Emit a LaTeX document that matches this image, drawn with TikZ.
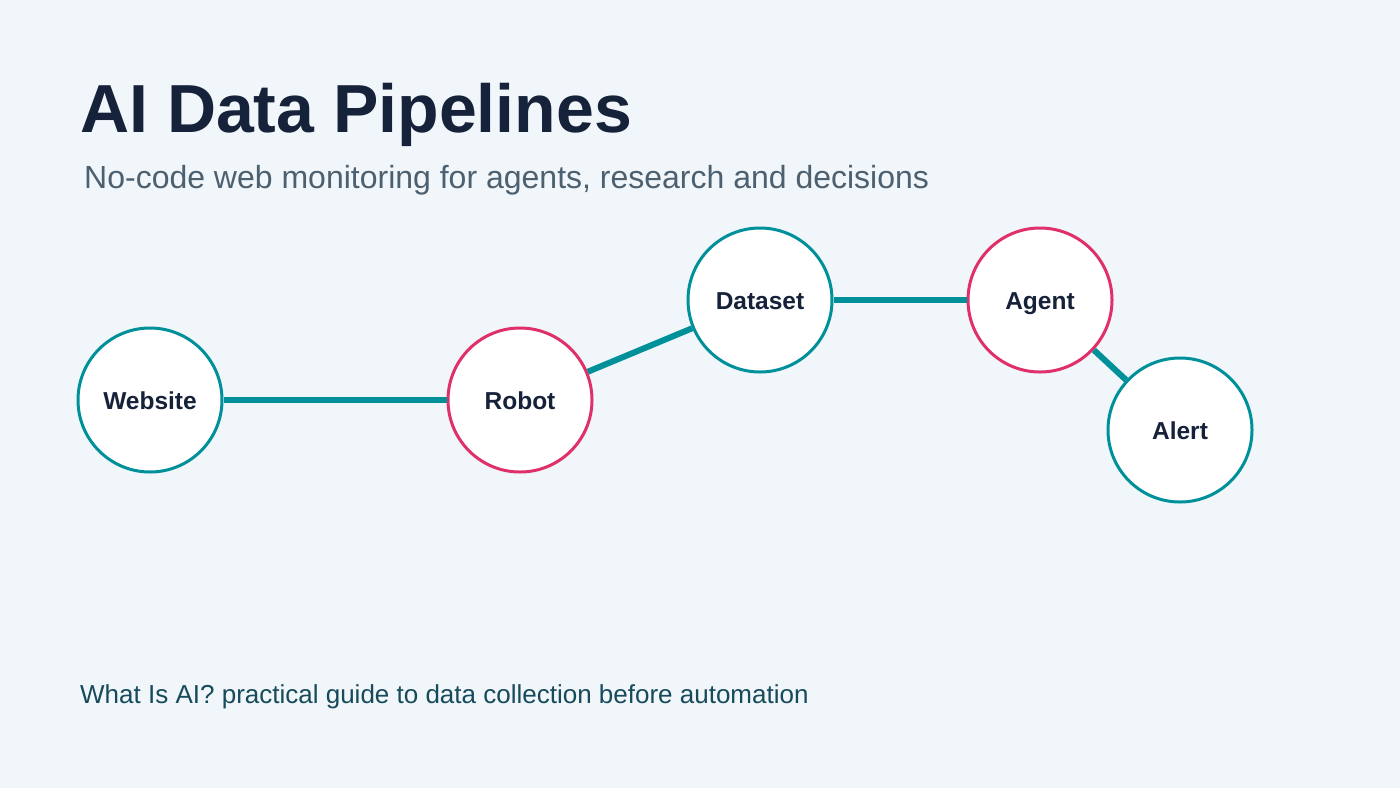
\documentclass[tikz,border=0pt]{standalone}
\usepackage{fontspec}
\setmainfont{Liberation Sans}
\definecolor{bgpale}{HTML}{F0F6F9}
\definecolor{tealc}{HTML}{00909A}
\definecolor{pinkc}{HTML}{E0306A}
\definecolor{inkc}{HTML}{16213A}
\definecolor{greyc}{HTML}{4D6070}
\definecolor{footc}{HTML}{174A5A}
\begin{document}
\begin{tikzpicture}
  [x=1pt,y=-1pt,
   stage/.style={circle,draw=tealc,fill=white,line width=3pt,minimum size=144pt,inner sep=0pt,
     text height=18pt,text depth=0pt,
     font=\fontsize{24.5}{26}\selectfont\bfseries,text=inkc},
   hot/.style={draw=pinkc},
   link/.style={draw=tealc,line width=6pt}]
  \fill[bgpale] (0,0) rectangle (1400,788);
  \useasboundingbox (0,0) rectangle (1400,788);
  \node[anchor=base west,inner sep=0pt,text=inkc,font=\fontsize{68}{74}\selectfont\bfseries] (title) at (80,132) {AI Data Pipelines};
  \node[anchor=base west,inner sep=0pt,text=greyc,font=\fontsize{32}{36}\selectfont] (sub) at (84,188) {No-code web monitoring for agents, research and decisions};
  \node[anchor=base west,inner sep=0pt,text=footc,font=\fontsize{26}{30}\selectfont] (foot) at (80,703) {What Is AI? practical guide to data collection before automation};
  \node[stage] (web) at (150,400) {Website};
  \node[stage,hot] (robot) at (520,400) {Robot};
  \node[stage] (data) at (760,300) {Dataset};
  \node[stage,hot] (agent) at (1040,300) {Agent};
  \node[stage] (alert) at (1180,430) {Alert};
  \draw[link] (web) -- (robot);
  \draw[link] (robot) -- (data);
  \draw[link] (data) -- (agent);
  \draw[link] (agent) -- (alert);
\end{tikzpicture}
\end{document}
